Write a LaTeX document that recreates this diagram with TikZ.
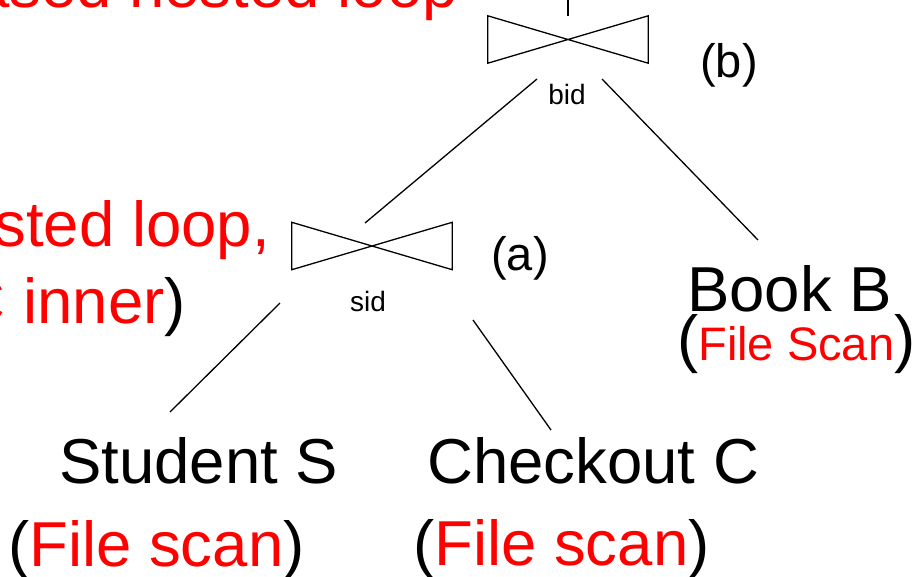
\documentclass[tikz,border=0pt]{standalone}
\usepackage{fontspec}
\setmainfont{Liberation Sans}
\definecolor{redt}{RGB}{255,0,0}
\begin{document}
\begin{tikzpicture}[x=1pt,y=-1pt,
  big/.style={inner sep=0pt,font=\fontsize{63.5}{70}\selectfont},
  mid/.style={inner sep=0pt,font=\fontsize{47}{52}\selectfont},
  lab/.style={inner sep=0pt,font=\fontsize{28}{32}\selectfont},
  joinbox/.style={minimum width=160pt,minimum height=47pt,inner sep=0pt},
  bow/.style={line width=1.3pt,line join=miter},
  edge/.style={line width=1.3pt}]
\useasboundingbox (0,0) rectangle (913,576);
\clip (0,0) rectangle (913,576);
% join symbols
\node[joinbox] (jb) at (568,39.5) {};
\node[joinbox] (ja) at (372,246) {};
\draw[bow] (jb.north west) -- (jb.south east) -- (jb.north east) -- (jb.south west) -- cycle;
\draw[bow] (ja.north west) -- (ja.south east) -- (ja.north east) -- (ja.south west) -- cycle;
\node[lab,anchor=base] (bid) at (567,104) {bid};
\node[lab,anchor=base] (sid) at (368,311) {sid};
\node[mid,anchor=base] (lb) at (729,77) {(b)};
\node[mid,anchor=base] (la) at (520,270) {(a)};
% leaves
\node[big,anchor=base west] (stu) at (59,483) {Student S};
\node[big,anchor=base west] (chk) at (427,483) {Checkout C};
\node[big,anchor=base west] (book) at (687,311) {Book B};
\node[big,anchor=base west] (fs1) at (8,566) {(\textcolor{redt}{File scan})};
\node[big,anchor=base west] (fs2) at (413,565) {(\textcolor{redt}{File scan})};
\node[big,anchor=base west] (fs3) at (677,360) {(\textcolor{redt}{\fontsize{47}{52}\selectfont File Scan})};
% left annotations
\node[big,anchor=base east,text=redt] (t1) at (458,7) {ased nested loop};
\node[big,anchor=base east,text=redt] (t2) at (270,246) {sted loop,};
\node[big,anchor=base east] (t3) at (186,323) {\textcolor{redt}{C inner})};
% connectors
\coordinate (top) at (568,0);
\coordinate (b1) at (537,79);
\coordinate (b2) at (602,79);
\coordinate (a0) at (365,223);
\coordinate (a1) at (280,303);
\coordinate (a2) at (473,320);
\coordinate (s0) at (170,412);
\coordinate (c0) at (551,430);
\coordinate (k0) at (758,240);
\draw[edge] (top) -- (jb.north);
\draw[edge] (b1) -- (a0);
\draw[edge] (b2) -- (k0);
\draw[edge] (a1) -- (s0);
\draw[edge] (a2) -- (c0);
\end{tikzpicture}
\end{document}
